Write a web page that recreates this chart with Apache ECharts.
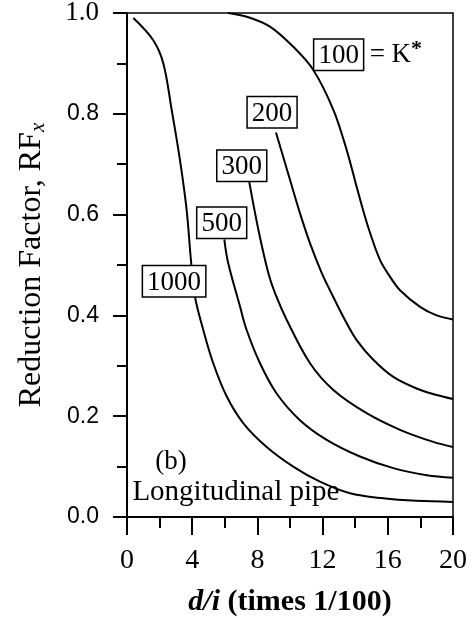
<!DOCTYPE html>
<html>
<head>
<meta charset="utf-8">
<script src="https://cdn.jsdelivr.net/npm/echarts@6/dist/echarts.min.js"></script>
<style>
  html, body { margin: 0; padding: 0; background: #fff; }
  #chart { width: 476px; height: 618px; }
</style>
</head>
<body>
<div id="chart"></div>
<script>
// curves, [d/i, RFx]
const k100 = [[6.2, 1.0], [7.4, 0.992], [8.77, 0.973], [10.2, 0.933], [11.43, 0.887], [12.66, 0.808],
  [13.48, 0.728], [14.09, 0.655], [14.75, 0.58], [15.52, 0.51], [16.13, 0.477],
  [16.75, 0.45], [17.98, 0.417], [19.0, 0.40], [20, 0.392]];
const k200 = [[9.14, 0.763], [10.0, 0.669], [10.61, 0.603], [11.23, 0.543], [11.95, 0.484], [12.45, 0.45],
  [13.37, 0.391], [14.09, 0.351], [15.11, 0.312], [16.34, 0.278], [17.77, 0.255], [19.0, 0.242], [20, 0.234]];
const k300 = [[7.5, 0.665], [8.06, 0.57], [8.67, 0.484], [9.08, 0.444], [9.8, 0.391], [11.23, 0.305],
  [12.66, 0.252], [14.7, 0.206], [16.75, 0.173], [18.79, 0.149], [20, 0.139]];
const k500 = [[5.97, 0.551], [6.2, 0.505], [6.93, 0.418], [7.34, 0.371], [8.16, 0.305], [9.18, 0.245],
  [10.61, 0.192], [12.25, 0.153], [14.29, 0.12], [16.34, 0.097], [18.39, 0.083], [20, 0.078]];
const k1000 = [[0.39, 0.99], [1.61, 0.946], [2.23, 0.90], [2.74, 0.808], [3.25, 0.708], [3.66, 0.609],
  [3.93, 0.507], [4.17, 0.437], [4.68, 0.371], [5.29, 0.305], [6.12, 0.239], [7.14, 0.186], [8.57, 0.139],
  [10.2, 0.10], [11.84, 0.07], [13.68, 0.047], [15.72, 0.037], [17.77, 0.032], [20, 0.030]];
const curves = [k100, k200, k300, k500, k1000];
const curveNames = ['100', '200', '300', '500', '1000'];
// where each K* box sits
const boxAt = [[14.8, 0.917], [8.9, 0.803], [7.04, 0.697], [5.81, 0.584], [2.89, 0.468]];

const serif = 'Liberation Serif';
const boxStyle = {
  fontFamily: serif, fontSize: 27, color: '#000', backgroundColor: '#fff',
  borderColor: '#000', borderWidth: 1.5, padding: [3, 4, 0, 4], lineHeight: 28
};

const chart = echarts.init(document.getElementById('chart'));

const series = curves.map((d, i) => ({
  type: 'line', data: d, showSymbol: false, smooth: 0.35,
  lineStyle: { color: '#000', width: 2 },
  markPoint: {
    symbol: 'rect', symbolSize: 1, itemStyle: { color: 'transparent' },
    data: [{ coord: boxAt[i], value: curveNames[i] }],
    label: {
      show: true, position: 'inside',
      formatter: i === 0 ? '{b|100}{t| = K}{s|*}' : '{b|' + curveNames[i] + '}',
      rich: {
        b: boxStyle,
        t: { fontFamily: serif, fontSize: 27, color: '#000' },
        s: { fontFamily: serif, fontSize: 22, fontWeight: 'bold', color: '#000', verticalAlign: 'top', padding: [0, 0, 12, 0] }
      }
    }
  }
}));

series.push({
  type: 'line', data: [], silent: true,
  markPoint: {
    symbol: 'rect', symbolSize: 1, itemStyle: { color: 'transparent' },
    label: { show: true, color: '#000', fontFamily: serif, fontSize: 27 },
    data: [
      { coord: [2.7, 0.11], label: { position: 'inside', formatter: '(b)' } },
      { coord: [0.3, 0.048], label: { position: 'right', distance: 0, fontSize: 29, formatter: 'Longitudinal pipe' } }
    ]
  }
});

chart.setOption({
  animation: false,
  grid: {
    left: 127, right: 23, top: 13, bottom: 101, outerBoundsMode: 'none',
    show: true, borderColor: '#000', borderWidth: 1.5
  },
  xAxis: {
    type: 'value', min: 0, max: 20, interval: 4,
    name: '{i|d/i} (times 1/100)', nameLocation: 'middle', nameGap: 70,
    nameTextStyle: {
      fontFamily: serif, fontSize: 30, fontWeight: 'bold', color: '#000',
      rich: { i: { fontFamily: serif, fontSize: 30, fontWeight: 'bold', fontStyle: 'italic', color: '#000' } }
    },
    axisLine: { lineStyle: { color: '#000', width: 2 } },
    axisTick: { length: 18, lineStyle: { color: '#000', width: 2 } },
    minorTick: { show: true, splitNumber: 2, length: 11, lineStyle: { color: '#000', width: 2 } },
    splitLine: { show: false },
    axisLabel: { fontFamily: serif, fontSize: 28, color: '#000', margin: 30 }
  },
  yAxis: {
    type: 'value', min: 0, max: 1, interval: 0.2,
    name: '{a|Reduction Factor, RF}{x|x}', nameLocation: 'middle', nameGap: 78,
    nameTextStyle: {
      rich: {
        a: { fontFamily: serif, fontSize: 32, color: '#000' },
        x: { fontFamily: serif, fontSize: 21, fontStyle: 'italic', color: '#000', verticalAlign: 'bottom', padding: [14, 0, 0, 0] }
      }
    },
    axisLine: { lineStyle: { color: '#000', width: 2 } },
    axisTick: { length: 14, lineStyle: { color: '#000', width: 2 } },
    minorTick: { show: true, splitNumber: 2, length: 10, lineStyle: { color: '#000', width: 2 } },
    splitLine: { show: false },
    axisLabel: {
      margin: 28, color: '#000', fontFamily: 'Liberation Sans', fontSize: 23,
      formatter: v => v === 1 ? '{s|1.0}' : v.toFixed(1),
      rich: { s: { fontFamily: serif, fontSize: 27, color: '#000' } }
    }
  },
  series: series
});
</script>
</body>
</html>
